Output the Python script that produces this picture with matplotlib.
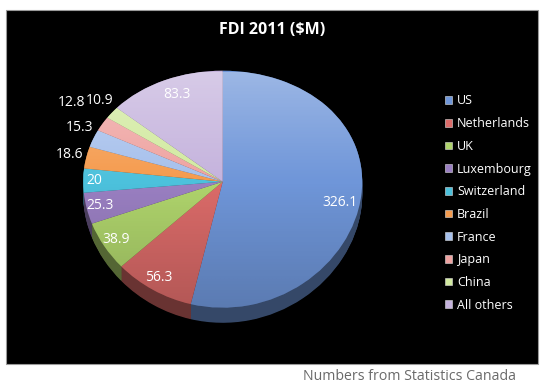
import numpy as np
import matplotlib
matplotlib.use("Agg")
import matplotlib.pyplot as plt
from matplotlib.patches import Rectangle, Patch, Ellipse
from matplotlib.colors import to_rgb

categories = ["US", "Netherlands", "UK", "Luxembourg", "Switzerland",
              "Brazil", "France", "Japan", "China", "All others"]
values = [326.1, 56.3, 38.9, 25.3, 20, 18.6, 15.3, 12.8, 10.9, 83.3]
value_labels = ["326.1", "56.3", "38.9", "25.3", "20", "18.6", "15.3", "12.8", "10.9", "83.3"]
title = "FDI 2011 ($M)"
caption = "Numbers from Statistics Canada"

colors = ["#6F96D9", "#DB6B69", "#AFD46C", "#9A7FC2", "#4CC1DC",
          "#F59B4E", "#A6C0EC", "#EFA3A1", "#D2EAA0", "#C5B3DD"]
# label placement (radius factor and angular nudge in degrees)
label_r = [0.86, 0.90, 0.90, 0.90, 0.92, 1.12, 1.13, 1.29, 1.14, 0.84]
label_dt = [-5, -0.7, 0, 0, 0, 0, -2.6, -2.5, -1.6, -1.7]

W, H = 546, 387
fig = plt.figure(figsize=(W / 100, H / 100), dpi=100)
fig.patch.set_facecolor("white")

# black chart area
fig.add_artist(Rectangle((6 / W, 1 - 364 / H), 532 / W, 354 / H,
                         transform=fig.transFigure, facecolor="black",
                         edgecolor="#9a9a9a", linewidth=0.8, zorder=0))

fig.text(272 / W, 1 - 29.5 / H, title, color="white", fontsize=11.5,
         fontweight="bold", ha="center", va="center", family="Open Sans")
fig.text(516 / W, 1 - 376 / H, caption, color="#6a6a6a", fontsize=10.2,
         ha="right", va="center", family="Open Sans")

# perspective-like vertical mapping (near half slightly larger)
k = 0.0633


def fwd(y):
    return y / (1 + k * y)


def inv(y):
    return y / (1 - k * y)


sx, sy = 139.5, 118.0
cx, cy = 222.7, 181.7
xl = (-1.5, 1.5)
yl = (-1.45, 1.3)
left = (cx + xl[0] * sx) / W
width = (xl[1] - xl[0]) * sx / W
top_px = cy - fwd(yl[1]) * sy
bot_px = cy - fwd(yl[0]) * sy
ax = fig.add_axes([left, 1 - bot_px / H, width, (bot_px - top_px) / H])
ax.set_facecolor("none")

depth = 15.0 / sy * (1 - k) ** 2
dark = [tuple(c * 0.48 for c in to_rgb(col)) for col in colors]
for d in np.linspace(depth, 0.0, 24):
    ax.pie(values, colors=dark, startangle=90, counterclock=False,
           center=(0, -d), radius=1, wedgeprops=dict(linewidth=0))

wedges, _ = ax.pie(values, colors=colors, startangle=90, counterclock=False,
                   center=(0, 0), radius=1, wedgeprops=dict(linewidth=0))

ax.set_aspect("auto")
ax.set_yscale("function", functions=(fwd, inv))
ax.set_xlim(*xl)
ax.set_ylim(*yl)

# subtle vertical shading on the top face
n = 256
rgba = np.zeros((n, 1, 4))
t = np.linspace(0, 1, n)  # 0 bottom -> 1 top
rgba[:, 0, 0:3] = np.where(t[:, None] > 0.5, 1.0, 0.0)
rgba[:, 0, 3] = np.where(t > 0.5, 0.32 * (t - 0.5) * 2, 0.18 * (0.5 - t) * 2)
im = ax.imshow(rgba, extent=(-1, 1, -1, 1), origin="lower",
               aspect="auto", zorder=3, interpolation="bilinear")
im.set_clip_path(Ellipse((0, 0), 2, 2, transform=ax.transData))

for w, lab, r, dt in zip(wedges, value_labels, label_r, label_dt):
    ang = np.deg2rad((w.theta1 + w.theta2) / 2 + dt)
    ax.text(r * np.cos(ang), r * np.sin(ang), lab, color="white",
            fontsize=10, ha="center", va="center", family="Open Sans",
            zorder=5)

ax.set_xlim(*xl)
ax.set_ylim(*yl)
ax.axis("off")

handles = [Patch(facecolor=c, edgecolor="#dddddd", linewidth=0.4) for c in colors]
leg = fig.legend(handles, categories, loc="upper left",
                 bbox_to_anchor=(440 / W, 1 - 89.5 / H), frameon=False,
                 labelcolor="white", handlelength=0.56, borderaxespad=0,
                 handleheight=0.56, handletextpad=0.4, labelspacing=0.775,
                 prop={"family": "Open Sans", "size": 9})

fig.savefig("out.png", dpi=100, facecolor="white")
